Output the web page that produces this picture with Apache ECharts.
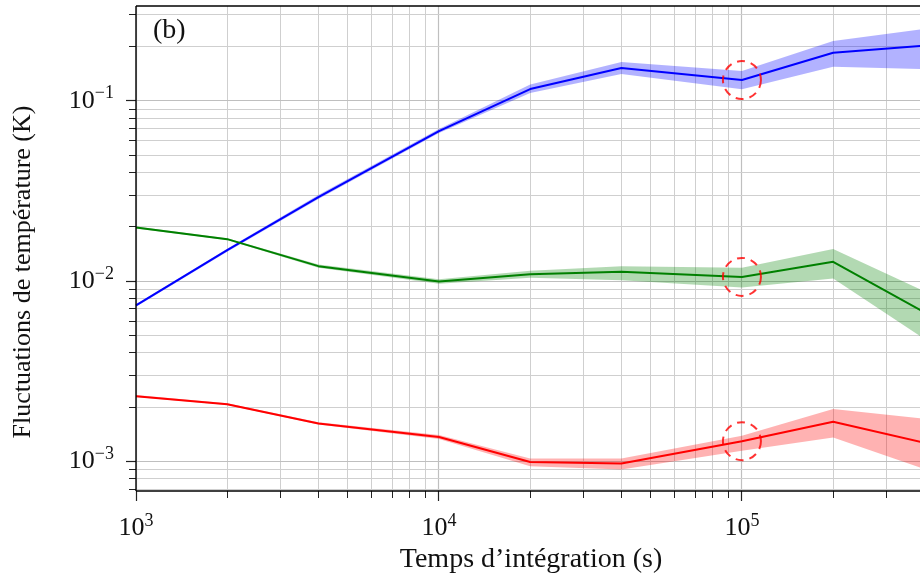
<!DOCTYPE html>
<html><head><meta charset="utf-8">
<script src="https://cdn.jsdelivr.net/npm/echarts@6/dist/echarts.min.js"></script>
<style>html,body{margin:0;padding:0;background:#fff}#c{width:920px;height:581px}</style>
</head><body><div id="c"></div>
<script>
// ---- data ----
const times = [1e3, 2e3, 4e3, 1e4, 2e4, 4e4, 1e5, 2e5, 4e5];

const blueMean = [7.316e-3, 14.84e-3, 29.22e-3, 67.88e-3, 116.1e-3, 151.9e-3, 130.3e-3, 184.7e-3, 201.9e-3];
const blueHigh = [7.44e-3, 15.12e-3, 29.97e-3, 69.64e-3, 123.0e-3, 164.0e-3, 146.2e-3, 214.5e-3, 250.6e-3];
const blueLow  = [7.205e-3, 14.55e-3, 28.48e-3, 66.17e-3, 110.3e-3, 140.7e-3, 115.7e-3, 154.5e-3, 149.8e-3];

const greenMean = [19.83e-3, 17.07e-3, 12.09e-3, 9.94e-3, 10.91e-3, 11.24e-3, 10.54e-3, 12.78e-3, 6.70e-3];
const greenHigh = [20.08e-3, 17.29e-3, 12.33e-3, 10.24e-3, 11.39e-3, 12.09e-3, 11.83e-3, 15.03e-3, 8.76e-3];
const greenLow  = [19.57e-3, 16.86e-3, 11.86e-3, 9.67e-3, 10.41e-3, 10.11e-3, 9.21e-3, 10.33e-3, 4.77e-3];

const redMean = [2.295e-3, 2.072e-3, 1.619e-3, 1.364e-3, 0.991e-3, 0.971e-3, 1.292e-3, 1.655e-3, 1.266e-3];
const redHigh = [2.33e-3, 2.10e-3, 1.648e-3, 1.40e-3, 1.035e-3, 1.035e-3, 1.387e-3, 1.949e-3, 1.72e-3];
const redLow  = [2.27e-3, 2.05e-3, 1.597e-3, 1.331e-3, 0.938e-3, 0.899e-3, 1.144e-3, 1.355e-3, 0.906e-3];

const markedTime = 1e5;

const xMin = 1e3, xMax = 3.87e5;
const yMin = 6.84e-4, yMax = 0.3355;
const xMajorTicks = [1e3, 1e4, 1e5];
const xMinorTicks = [2e3,3e3,4e3,5e3,6e3,7e3,8e3,9e3,2e4,3e4,4e4,5e4,6e4,7e4,8e4,9e4,2e5,3e5];
const yMajorTicks = [1e-3, 1e-2, 1e-1];
const yMinorTicks = [7e-4,8e-4,9e-4,2e-3,3e-3,4e-3,5e-3,6e-3,7e-3,8e-3,9e-3,2e-2,3e-2,4e-2,5e-2,6e-2,7e-2,8e-2,9e-2,2e-1,3e-1];

const xTitle = 'Temps d’intégration (s)';
const yTitle = 'Fluctuations de température (K)';
const panelLabel = '(b)';

// ---- chart ----
const FONT = 'Liberation Serif';
const TXT = '#111';

function sup(v) {
  const l = Math.log10(v), e = Math.round(l);
  if (Math.abs(l - e) > 1e-6) return '';
  return '{a|10}{b|' + (e < 0 ? '\u2212' + (-e) : e) + '}';
}
const rich = {
  a: {fontFamily: FONT, fontSize: 26, color: TXT, lineHeight: 32},
  b: {fontFamily: FONT, fontSize: 18, color: TXT, verticalAlign: 'top', lineHeight: 20}
};

function crisp(p) { return Math.round(p - 0.5) + 0.5; }

function gridRender(params, api) {
  const cs = params.coordSys;
  const x0 = cs.x, y0 = cs.y, x1 = cs.x + cs.width, y1 = cs.y + cs.height;
  const ch = [];
  const gl = (a, b, c, d, col, w) => ch.push({type: 'line', shape: {x1: a, y1: b, x2: c, y2: d}, style: {stroke: col, lineWidth: w}});
  const minorCol = '#cfcfcf', majorCol = '#bfbfbf', tickCol = '#222';
  xMinorTicks.forEach(v => { const p = crisp(api.coord([v, yMin])[0]); gl(p, y0, p, y1, minorCol, 1); gl(p, y1, p, y1 + 7, tickCol, 1); });
  xMajorTicks.forEach(v => { const p = crisp(api.coord([v, yMin])[0]); gl(p, y0, p, y1, majorCol, 1.2); gl(p, y1, p, y1 + 10, tickCol, 1.2); });
  yMinorTicks.forEach(v => { const p = crisp(api.coord([xMin, v])[1]); gl(x0, p, x1, p, minorCol, 1); gl(x0 - 7, p, x0, p, tickCol, 1); });
  yMajorTicks.forEach(v => { const p = crisp(api.coord([xMin, v])[1]); gl(x0, p, x1, p, majorCol, 1.2); gl(x0 - 10, p, x0, p, tickCol, 1.2); });
  return {type: 'group', children: ch};
}
function spineRender(params, api) {
  const cs = params.coordSys;
  const x0 = cs.x, y0 = cs.y, x1 = cs.x + cs.width + 10, y1 = cs.y + cs.height;
  const st = {stroke: '#000', lineWidth: 1.4};
  return {type: 'group', children: [
    {type: 'line', shape: {x1: x0, y1: y0, x2: x1, y2: y0}, style: st},
    {type: 'line', shape: {x1: x0, y1: y0, x2: x0, y2: y1}, style: st},
    {type: 'line', shape: {x1: x0, y1: y1, x2: x1, y2: y1}, style: st}
  ]};
}

function bandSeries(high, low, color) {
  return {
    type: 'custom', coordinateSystem: 'cartesian2d', z: 2, silent: true,
    data: [[xMin, 1e-2]],
    renderItem: function (params, api) {
      const pts = [];
      times.forEach((t, i) => pts.push(api.coord([t, high[i]])));
      for (let i = times.length - 1; i >= 0; i--) pts.push(api.coord([times[i], low[i]]));
      return {type: 'polygon', shape: {points: pts}, style: {fill: color, opacity: 0.3}};
    }
  };
}
function lineSeries(mean, color) {
  return {
    type: 'line', z: 3, silent: true, showSymbol: false, symbol: 'none', clip: true,
    data: times.map((t, i) => [t, mean[i]]),
    lineStyle: {color: color, width: 2}, itemStyle: {color: color}
  };
}
const mi = times.indexOf(markedTime);
const circleSeries = {
  type: 'scatter', z: 4, silent: true, symbol: 'circle', symbolSize: 38,
  data: [[markedTime, blueMean[mi]], [markedTime, greenMean[mi]], [markedTime, redMean[mi]]],
  itemStyle: {color: 'rgba(0,0,0,0)', borderColor: '#ff0000', borderWidth: 2, borderType: [8, 6]}
};

const option = {
  animation: false,
  backgroundColor: '#fff',
  grid: {left: 136, top: 6, right: 0, bottom: 90, show: false},
  xAxis: {
    type: 'log', logBase: 10, min: xMin, max: xMax,
    axisLine: {show: false}, axisTick: {show: false}, splitLine: {show: false}, minorTick: {show: false}, minorSplitLine: {show: false},
    axisLabel: {formatter: sup, rich: rich, margin: 21, showMinLabel: true, showMaxLabel: false, hideOverlap: false}
  },
  yAxis: {
    type: 'log', logBase: 10, min: yMin, max: yMax,
    axisLine: {show: false}, axisTick: {show: false}, splitLine: {show: false}, minorTick: {show: false}, minorSplitLine: {show: false},
    axisLabel: {formatter: sup, rich: rich, margin: 22, hideOverlap: false}
  },
  graphic: [
    {type: 'text', left: 153, top: 17, z: 10, style: {text: panelLabel, font: '28px "Liberation Serif"', fill: TXT}},
    {type: 'text', x: 531, y: 560, z: 10, style: {text: xTitle, font: '28px "Liberation Serif"', fill: TXT, align: 'center', verticalAlign: 'middle'}},
    {type: 'text', x: 23, y: 272, rotation: Math.PI / 2, z: 10, style: {text: yTitle, font: '26px "Liberation Serif"', fill: TXT, align: 'center', verticalAlign: 'middle'}}
  ],
  series: [
    {type: 'custom', coordinateSystem: 'cartesian2d', z: 1, silent: true, data: [[xMin, 1e-2]], renderItem: gridRender},
    bandSeries(blueHigh, blueLow, '#0000ff'),
    bandSeries(greenHigh, greenLow, '#008000'),
    bandSeries(redHigh, redLow, '#ff0000'),
    lineSeries(blueMean, '#0000ff'),
    lineSeries(greenMean, '#008000'),
    lineSeries(redMean, '#ff0000'),
    circleSeries,
    {type: 'custom', coordinateSystem: 'cartesian2d', z: 10, silent: true, data: [[xMin, 1e-2]], renderItem: spineRender}
  ]
};
const chart = echarts.init(document.getElementById('c'), null, {renderer: 'canvas'});
chart.setOption(option);
</script></body></html>
